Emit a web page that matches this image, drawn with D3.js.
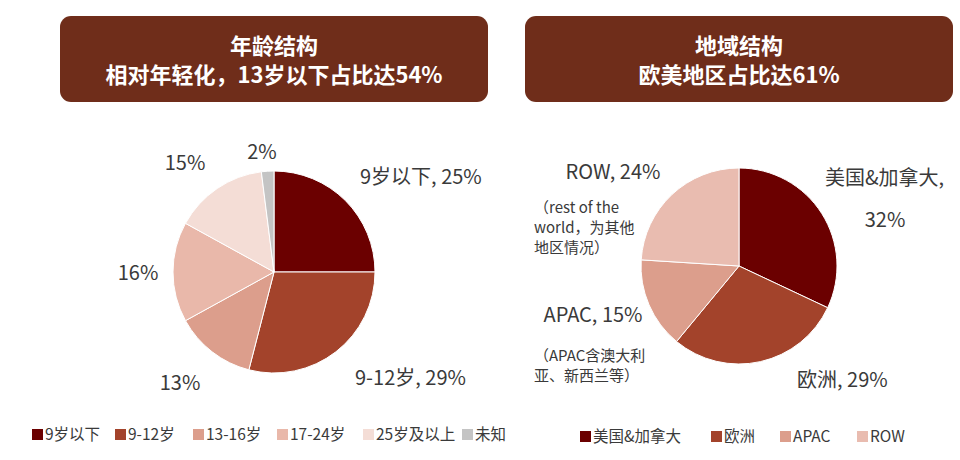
<!DOCTYPE html>
<html><head><meta charset="utf-8">
<script src="https://cdn.jsdelivr.net/npm/d3@7"></script>
<style>
html,body{margin:0;padding:0;background:#fff;}
text{font-family:"Noto Sans CJK SC","Noto Sans",sans-serif;}
</style></head>
<body>
<svg id="c" width="960" height="460"></svg>
<script>
// ---- data ----
const ageCategories = ["9岁以下","9-12岁","13-16岁","17-24岁","25岁及以上","未知"];
const ageValues = [25, 29, 13, 16, 15, 2];
const ageColors = ["#6b0000","#a3432b","#dc9e8c","#e9b8aa","#f4ddd6","#c4c4c4"];
const regionCategories = ["美国&加拿大","欧洲","APAC","ROW"];
const regionValues = [32, 29, 15, 24];
const regionColors = ["#6b0000","#a3432b","#dc9e8c","#e9bcb0"];
const titles = [
  ["年龄结构","相对年轻化，13岁以下占比达54%"],
  ["地域结构","欧美地区占比达61%"]
];
// labels: lines for each slice
const ageLabels = [
  {lines:["9岁以下, 25%"], x:360, y:184, anchor:"start"},
  {lines:["9-12岁, 29%"], x:355, y:385, anchor:"start"},
  {lines:["13%"], x:180, y:390, anchor:"middle"},
  {lines:["16%"], x:138, y:280, anchor:"middle"},
  {lines:["15%"], x:185, y:170, anchor:"middle"},
  {lines:["2%"], x:262, y:159, anchor:"middle"}
];
const regionLabels = [
  {lines:["美国&加拿大,"], x:825, y:185, anchor:"start"},
  {lines:["32%"], x:885, y:227, anchor:"middle"},
  {lines:["欧洲, 29%"], x:797, y:387, anchor:"start"},
  {lines:["APAC, 15%"], x:593, y:322, anchor:"middle"},
  {lines:["（APAC含澳大利","亚、新西兰等）"], x:534, y:361, anchor:"start", size:15, lh:20},
  {lines:["ROW, 24%"], x:613, y:179, anchor:"middle"},
  {lines:["（rest of the","world，为其他","地区情况）"], x:534, y:213, anchor:"start", size:15, lh:20}
];

const svg = d3.select("#c");

// title boxes
const boxes = [{x:60,w:428},{x:525,w:428}];
boxes.forEach((b,i)=>{
  svg.append("rect").attr("x",b.x).attr("y",16).attr("width",b.w).attr("height",86)
    .attr("rx",11).attr("fill","#6f2d1a");
  svg.append("text").attr("x",b.x+b.w/2).attr("y",54).attr("text-anchor","middle")
    .attr("fill","#fff").attr("font-size",22).attr("font-weight","bold").text(titles[i][0]);
  svg.append("text").attr("x",b.x+b.w/2).attr("y",83).attr("text-anchor","middle")
    .attr("fill","#fff").attr("font-size",22).attr("font-weight","bold").text(titles[i][1]);
});

function drawPie(cx, cy, r, values, colors){
  const pie = d3.pie().sort(null).value(d=>d);
  const arc = d3.arc().innerRadius(0).outerRadius(r);
  const g = svg.append("g").attr("transform",`translate(${cx},${cy})`);
  g.selectAll("path").data(pie(values)).join("path")
    .attr("d",arc).attr("fill",(d,i)=>colors[i])
    .attr("stroke","#fff").attr("stroke-width",1);
}
drawPie(274, 272, 101, ageValues, ageColors);
drawPie(739, 266, 98, regionValues, regionColors);

function drawLabels(labels){
  labels.forEach(l=>{
    const t = svg.append("text").attr("x",l.x).attr("y",l.y).attr("text-anchor",l.anchor)
      .attr("fill","#3a3a3a").attr("font-size",l.size||20);
    l.lines.forEach((s,i)=>{
      t.append("tspan").attr("x",l.x).attr("dy", i===0?0:(l.lh||20)).text(s);
    });
  });
}
drawLabels(ageLabels);
drawLabels(regionLabels);

// legends
function drawLegend(cats, colors, xs, y){
  cats.forEach((c,i)=>{
    svg.append("rect").attr("x",xs[i]).attr("y",y-11).attr("width",11).attr("height",11).attr("fill",colors[i]);
    svg.append("text").attr("x",xs[i]+13).attr("y",y).attr("fill","#3a3a3a")
      .attr("font-size",15.5).text(c);
  });
}
drawLegend(ageCategories, ageColors, [32,115,193,277,363,462], 440);
drawLegend(regionCategories, regionColors, [580,711,780,857], 442);
</script>
</body></html>
